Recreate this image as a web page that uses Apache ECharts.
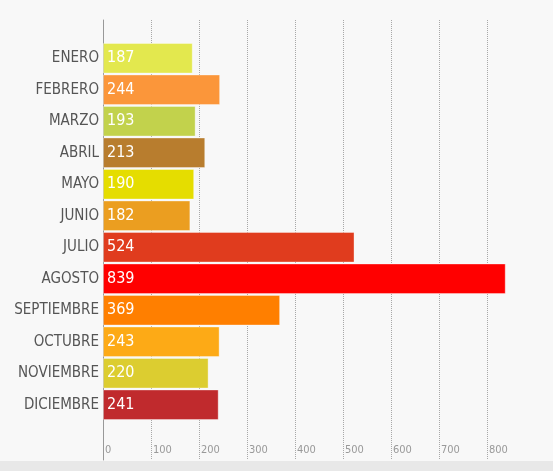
<!DOCTYPE html>
<html>
<head>
<meta charset="utf-8">
<script src="https://cdn.jsdelivr.net/npm/echarts@6/dist/echarts.min.js"></script>
<style>
html, body { margin: 0; padding: 0; background: #f8f8f8; }
#main { width: 553px; height: 471px; }
</style>
</head>
<body>
<div id="main"></div>
<script>
var meses = ['ENERO', 'FEBRERO', 'MARZO', 'ABRIL', 'MAYO', 'JUNIO', 'JULIO',
	'AGOSTO', 'SEPTIEMBRE', 'OCTUBRE', 'NOVIEMBRE', 'DICIEMBRE'];
var valores = [187, 244, 193, 213, 190, 182, 524, 839, 369, 243, 220, 241];
var colores = ['#e3e84e', '#fb963a', '#c2d24c', '#b87d2e', '#e5dd00', '#eb9e20',
	'#e03c1e', '#ff0000', '#ff7f00', '#fdaa16', '#dccd30', '#c02a2d'];

var fuente = "'Liberation Sans Narrow', 'DejaVu Sans Condensed', 'Roboto', sans-serif";
var maxX = 880;

var myChart = echarts.init(document.getElementById('main'));

var datos = [];
for (var i = 0; i < valores.length; i++) {
	datos.push({
		value: valores[i],
		itemStyle: { color: colores[i] }
	});
}

// lineas punteadas: la ultima (max) no se ve
var coloresLinea = [];
for (var k = 0; k < 9; k++) coloresLinea.push('#a8a8a8');
coloresLinea.push('rgba(0,0,0,0)');

var option = {
	backgroundColor: '#f8f8f8',
	animation: false,
	graphic: [{
		type: 'rect',
		left: 0,
		bottom: 0,
		shape: { width: 553, height: 10 },
		style: { fill: '#e8e8e8' },
		silent: true
	}],
	grid: [
		{ left: 103, width: 422.4, top: 20, bottom: 11 },
		{ left: 103, width: 422.4, top: 42.5, height: 378 }
	],
	xAxis: [
		{
			gridIndex: 0,
			type: 'value',
			min: 0,
			max: maxX,
			interval: 100,
			axisLine: { show: false },
			axisTick: { show: false },
			axisLabel: {
				inside: true,
				align: 'left',
				margin: 4,
				padding: [0, 0, 0, 2],
				color: '#999',
				fontSize: 11,
				fontFamily: fuente,
				showMaxLabel: false
			},
			splitLine: {
				show: true,
				lineStyle: { color: coloresLinea, type: [1, 1], width: 1 }
			}
		},
		{
			gridIndex: 1,
			type: 'value',
			min: 0,
			max: maxX,
			show: false
		}
	],
	yAxis: [
		{
			gridIndex: 0,
			type: 'category',
			data: [''],
			axisLine: { show: true, lineStyle: { color: '#999', width: 1 } },
			axisTick: { show: false },
			axisLabel: { show: false }
		},
		{
			gridIndex: 1,
			type: 'category',
			inverse: true,
			data: meses,
			axisLine: { show: false },
			axisTick: { show: false },
			axisLabel: {
				color: '#555',
				fontSize: 15,
				margin: 4,
				fontFamily: fuente
			}
		}
	],
	series: [
		{
			name: 'Meses',
			type: 'bar',
			xAxisIndex: 1,
			yAxisIndex: 1,
			barCategoryGap: '3%',
			data: datos,
			itemStyle: {
				borderColor: 'rgba(255,255,255,0.35)',
				borderWidth: 1
			},
			label: {
				show: true,
				position: 'insideLeft',
				distance: 4,
				color: '#fff',
				fontSize: 16,
				fontFamily: fuente
			}
		}
	]
};

myChart.setOption(option);
</script>
</body>
</html>
